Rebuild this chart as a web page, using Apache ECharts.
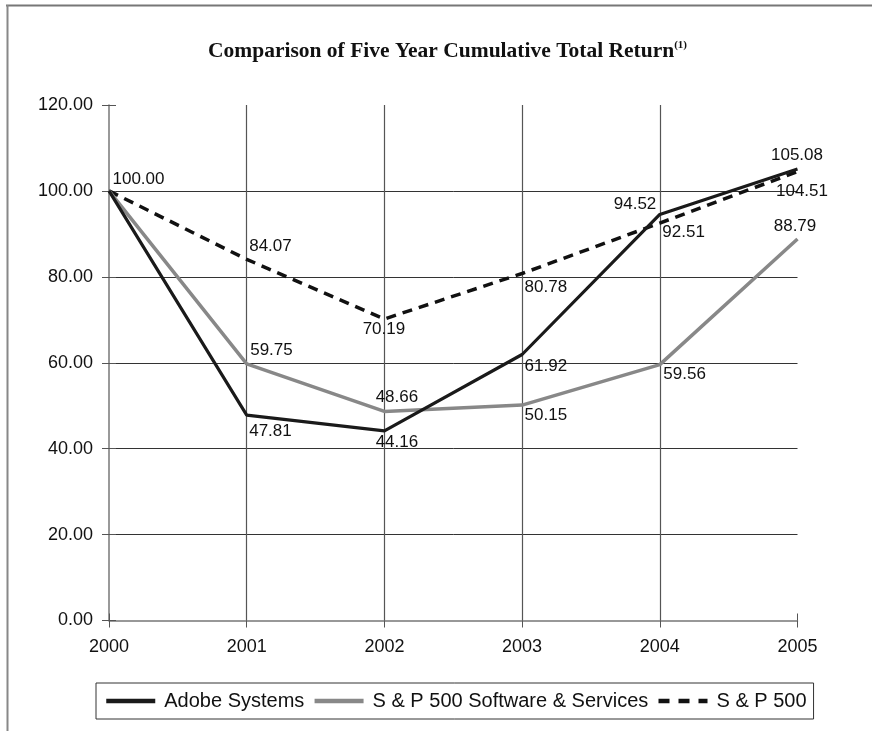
<!DOCTYPE html>
<html>
<head>
<meta charset="utf-8">
<script src="https://cdn.jsdelivr.net/npm/echarts@6/dist/echarts.min.js"></script>
<style>
html, body { margin: 0; padding: 0; background: #fff; }
#main { width: 872px; height: 731px; }
</style>
</head>
<body>
<div id="main"></div>
<script>
// data
var years = ['2000', '2001', '2002', '2003', '2004', '2005'];
var adobe = [100.00, 47.81, 44.16, 61.92, 94.52, 105.08];
var software = [100.00, 59.75, 48.66, 50.15, 59.56, 88.79];
var sp500 = [100.00, 84.07, 70.19, 80.78, 92.51, 104.51];
var yTicks = [0, 20, 40, 60, 80, 100, 120];

// where each value label sits relative to its point: [dx, dy, align]
var adobeLabelPos = [null, [3, 17, 'left'], [13, 12, 'center'], [3, 12, 'left'], [-3, -10, 'right'], [0, -13, 'center']];
var softwareLabelPos = [null, [4, -13, 'left'], [13, -14, 'center'], [3, 11, 'left'], [4, 10, 'left'], [-2, -12, 'center']];
var sp500LabelPos = [[4, -11, 'left'], [3, -13, 'left'], [0, 11, 'center'], [3, 14, 'left'], [3, 10, 'left'], [5, 20, 'center']];

var labelSeries = function (name, values, pos) {
    return {
        name: name + ' labels',
        type: 'scatter',
        silent: true,
        symbolSize: 1,
        itemStyle: { color: 'rgba(0,0,0,0)', opacity: 1 },
        z: 5,
        label: {
            fontFamily: 'Liberation Sans',
            fontSize: 17,
            color: '#111',
            opacity: 1,
            formatter: function (p) { return p.value.toFixed(2); }
        },
        data: values.map(function (v, i) {
            var p = pos[i];
            if (!p) return { value: v, label: { show: false } };
            return { value: v, label: { show: true, position: [p[0], p[1]], align: p[2], verticalAlign: 'middle' } };
        })
    };
};

var myChart = echarts.init(document.getElementById('main'));

var yMin = yTicks[0], yMax = yTicks[yTicks.length - 1], yStep = yTicks[1] - yTicks[0];
var hColors = yTicks.map(function (t, i) { return (i === 0 || i === yTicks.length - 1) ? 'rgba(0,0,0,0)' : '#333'; });
var vColors = years.map(function (t, i) { return (i === 0 || i === years.length - 1) ? 'rgba(0,0,0,0)' : '#555'; });

var option = {
    animation: false,
    backgroundColor: '#fff',
    textStyle: { fontFamily: 'Liberation Sans' },
    title: {
        text: 'Comparison of Five Year Cumulative Total Return{sup|(1)}',
        left: 203,
        top: 35,
        textStyle: {
            fontFamily: 'Liberation Serif',
            fontWeight: 'bold',
            fontSize: 21.5,
            color: '#111',
            rich: {
                sup: { fontFamily: 'Liberation Serif', fontWeight: 'bold', fontSize: 11, color: '#111', verticalAlign: 'top' }
            }
        }
    },
    // frame round the figure
    graphic: [
        { type: 'line', shape: { x1: 6, y1: 5.5, x2: 872, y2: 5.5 }, style: { stroke: '#777', lineWidth: 2 } },
        { type: 'line', shape: { x1: 7.5, y1: 5, x2: 7.5, y2: 731 }, style: { stroke: '#888', lineWidth: 2 } }
    ],
    legend: {
        data: [
            { name: 'Adobe Systems' },
            { name: 'S & P 500 Software & Services' },
            { name: 'S & P 500', lineStyle: { type: [11, 9] } }
        ],
        left: 96,
        top: 683,
        padding: [8, 7, 8, 8],
        itemWidth: 49,
        itemHeight: 14,
        itemGap: 8,
        borderColor: '#333',
        borderWidth: 1,
        borderRadius: 0,
        itemStyle: { opacity: 0 },
        lineStyle: { width: 4.5 },
        textStyle: { fontFamily: 'Liberation Sans', fontSize: 20, color: '#111', padding: [0, 0, 0, 4] }
    },
    grid: { left: 109, right: 74.5, top: 105, bottom: 110.5 },
    xAxis: [{
        type: 'category',
        data: years,
        boundaryGap: false,
        axisLine: { lineStyle: { color: '#777', width: 1.5 } },
        axisTick: { show: true, length: 7, lineStyle: { color: '#555' } },
        axisLabel: { margin: 18, fontSize: 18, color: '#111' },
        splitLine: { show: true, lineStyle: { color: vColors, width: 1.2 } }
    }, {
        type: 'category',
        data: years,
        boundaryGap: false,
        position: 'bottom',
        axisLine: { show: false },
        axisTick: { show: true, inside: true, length: 7, lineStyle: { color: '#555' } },
        axisLabel: { show: false },
        splitLine: { show: false }
    }],
    yAxis: [{
        type: 'value',
        min: yMin,
        max: yMax,
        interval: yStep,
        axisLine: { show: true, lineStyle: { color: '#777', width: 1.5 } },
        axisTick: { show: true, length: 7, lineStyle: { color: '#555' } },
        axisLabel: { margin: 16, fontSize: 18, color: '#111', formatter: function (v) { return v.toFixed(2); } },
        splitLine: { show: true, lineStyle: { color: hColors, width: 1 } }
    }, {
        type: 'value',
        min: yMin,
        max: yMax,
        interval: yStep,
        position: 'left',
        axisLine: { show: false },
        axisTick: { show: true, inside: true, length: 7, lineStyle: { color: '#555' } },
        axisLabel: { show: false },
        splitLine: { show: false }
    }],
    series: [{
        name: 'S & P 500',
        type: 'line',
        symbol: 'none',
        data: sp500,
        color: '#111',
        lineStyle: { color: '#111', width: 3.5, type: [10, 7] }
    }, {
        name: 'S & P 500 Software & Services',
        type: 'line',
        symbol: 'none',
        data: software,
        color: '#888',
        lineStyle: { color: '#888', width: 3.5 }
    }, {
        name: 'Adobe Systems',
        type: 'line',
        symbol: 'none',
        data: adobe,
        color: '#1a1a1a',
        lineStyle: { color: '#1a1a1a', width: 3.2 }
    },
    labelSeries('S & P 500', sp500, sp500LabelPos),
    labelSeries('Software', software, softwareLabelPos),
    labelSeries('Adobe', adobe, adobeLabelPos)
    ]
};

myChart.setOption(option);
</script>
</body>
</html>
